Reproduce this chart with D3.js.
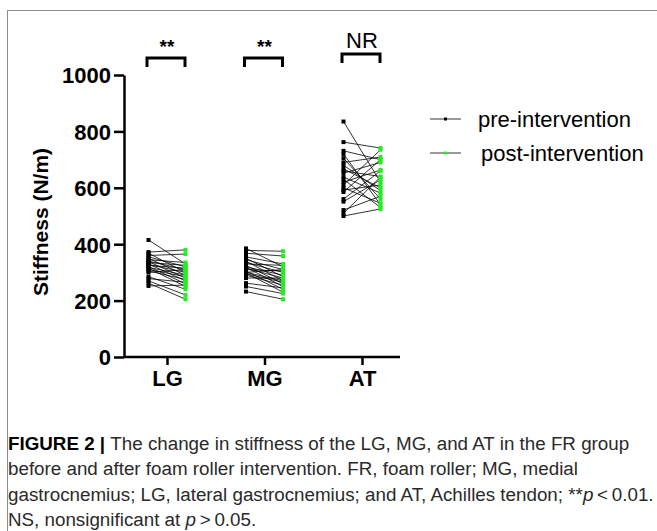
<!DOCTYPE html>
<meta charset="utf-8">
<body style="margin:0;background:#fff">
<style>
  text { font-family: "Liberation Sans", Arial, sans-serif; }
  .axis text { font-size: 22px; font-weight: bold; fill: #000; }
  .axis path, .axis line { stroke: #000; stroke-width: 2.5px; }
  .caption { font-size: 18.8px; fill: #2a2a2a; }
</style>
<svg width="657" height="531"></svg>
<script src="https://d3js.org/d3.v7.min.js"></script>
<script>

// data
var muscles = ["LG", "MG", "AT"];
var lgPre  = [415, 372, 368, 360, 355, 350, 345, 340, 338, 335, 330, 328, 325, 320, 318, 315, 310, 305, 300, 285, 278, 270, 262, 252];
var lgPost = [330, 380, 300, 365, 320, 290, 335, 310, 280, 325, 270, 300, 315, 260, 290, 250, 285, 275, 310, 240, 265, 220, 205, 255];
var mgPre  = [385, 378, 368, 355, 350, 345, 340, 335, 330, 325, 320, 318, 315, 310, 305, 300, 298, 295, 290, 280, 262, 250, 232, 300];
var mgPost = [320, 375, 358, 330, 285, 310, 270, 300, 325, 260, 290, 250, 280, 305, 240, 270, 230, 265, 255, 280, 245, 225, 205, 310];
var atPre  = [835, 762, 731, 705, 690, 667, 660, 652, 638, 630, 620, 610, 600, 592, 585, 551, 521, 510, 500, 680, 720, 560];
var atPost = [620, 741, 700, 560, 709, 600, 640, 690, 581, 530, 663, 735, 545, 610, 700, 628, 570, 638, 525, 590, 540, 660];
var signif = ["**", "**", "NR"];
var yTicks = [0, 200, 400, 600, 800, 1000];
var legendLabels = ["pre-intervention", "post-intervention"];
// caption segments: [text, style] where b = bold, i = italic
var captionLines = [
  [["FIGURE 2 | ", "b"], ["The change in stiffness of the LG, MG, and AT in the FR group", ""]],
  [["before and after foam roller intervention. FR, foam roller; MG, medial", ""]],
  [["gastrocnemius; LG, lateral gastrocnemius; and AT, Achilles tendon; **", ""], ["p", "i"], ["\u2009<\u20090.01.", ""]],
  [["NS, nonsignificant at ", ""], ["p", "i"], ["\u2009>\u20090.05.", ""]]
];

var pairs = [[lgPre, lgPost], [mgPre, mgPost], [atPre, atPost]];
var green = "#22ee22";

var svg = d3.select("svg");

// frame
svg.append("rect")
    .attr("x", 7.5).attr("y", 10.5)
    .attr("width", 700).attr("height", 600)
    .attr("fill", "none").attr("stroke", "#8a8a8a").attr("stroke-width", 1);

var y = d3.scaleLinear().domain([0, 1000]).range([357, 75]);
var x = d3.scalePoint().domain(muscles).range([167, 362]);
var xOff = 18.5;

// axes
svg.append("g")
    .attr("class", "axis")
    .attr("transform", "translate(124,0)")
    .call(d3.axisLeft(y).tickValues(yTicks).tickFormat(d3.format("d")).tickSize(10).tickPadding(3).tickSizeOuter(0))
    .call(g => g.selectAll("text").attr("dy", "0.36em"));

var xg = svg.append("g")
    .attr("class", "axis")
    .attr("transform", "translate(0,357)")
    .call(d3.axisBottom(x).tickSize(8).tickPadding(5).tickSizeOuter(0));
xg.select(".domain").attr("d", "M124,0H400");

// y title
svg.append("text")
    .attr("transform", "translate(48,222) rotate(-90)")
    .attr("text-anchor", "middle")
    .style("font-size", "21px").style("font-weight", "bold")
    .text("Stiffness (N/m)");

// paired lines and points
pairs.forEach(function(p, i) {
  var cx = x(muscles[i]);
  var g = svg.append("g");
  p[0].forEach(function(v, j) {
    g.append("line")
      .attr("x1", cx - xOff).attr("y1", y(v))
      .attr("x2", cx + xOff).attr("y2", y(p[1][j]))
      .attr("stroke", "#000").attr("stroke-width", 0.8);
  });
  g.selectAll(".pre").data(p[0]).enter().append("rect")
    .attr("x", cx - xOff - 2).attr("y", d => y(d) - 2)
    .attr("width", 4).attr("height", 4).attr("fill", "#000");
  g.selectAll(".post").data(p[1]).enter().append("rect")
    .attr("x", cx + xOff - 2).attr("y", d => y(d) - 2)
    .attr("width", 4).attr("height", 4).attr("fill", green);

  // significance bracket
  var top = i == 2 ? 54 : 58;
  svg.append("path")
    .attr("d", "M" + (cx - 20) + "," + (top + 9) + "V" + top + "H" + (cx + 18) + "V" + (top + 9))
    .attr("fill", "none").attr("stroke", "#000").attr("stroke-width", 3);
  svg.append("text")
    .attr("x", cx).attr("y", i == 2 ? 48 : 53)
    .attr("text-anchor", "middle")
    .style("font-size", i == 2 ? "22px" : "19px")
    .style("font-weight", i == 2 ? "normal" : "bold")
    .text(signif[i]);
});

// legend
legendLabels.forEach(function(l, i) {
  var ly = 119 + i * 34;
  svg.append("line").attr("x1", 430).attr("x2", 461).attr("y1", ly).attr("y2", ly)
    .attr("stroke", "#000").attr("stroke-width", 0.8);
  svg.append("rect").attr("x", 444).attr("y", ly - 1.5).attr("width", 3).attr("height", 3)
    .attr("fill", i == 0 ? "#000" : green);
  svg.append("text").attr("x", 478 + i * 3).attr("y", ly + 8)
    .style("font-size", "22px").text(l);
});

// caption
captionLines.forEach(function(c, i) {
  var t = svg.append("text").attr("class", "caption")
    .attr("x", 8).attr("y", 450 + i * 25.3);
  c.forEach(function(s) {
    var ts = t.append("tspan").text(s[0]);
    if (s[1] == "b") ts.style("font-weight", "bold").attr("fill", "#000");
    if (s[1] == "i") ts.style("font-style", "italic");
  });
});

</script>
</body>
